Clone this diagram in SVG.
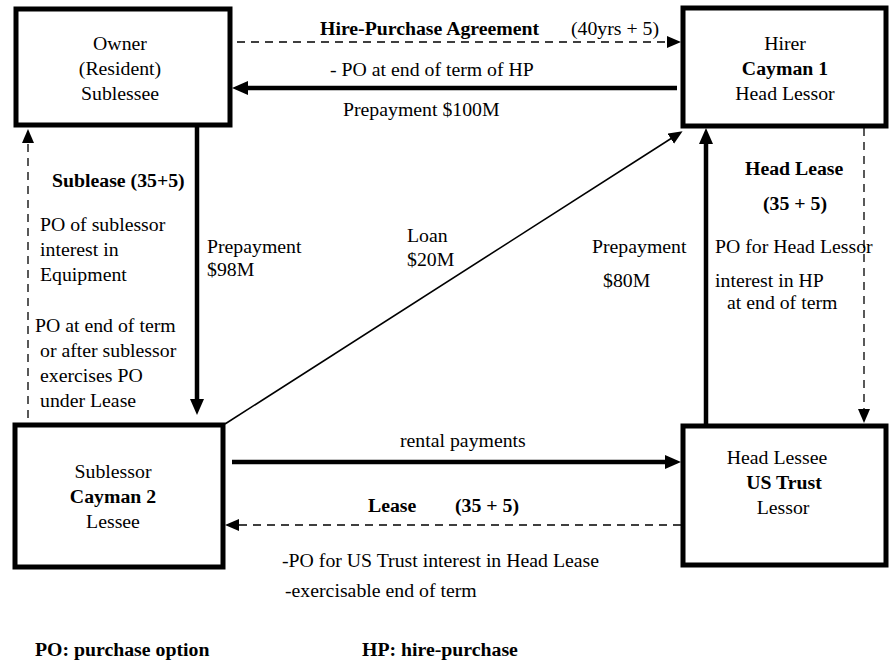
<svg xmlns="http://www.w3.org/2000/svg" width="889" height="662" viewBox="0 0 889 662" font-family="Liberation Serif, Times New Roman, serif">
<style>
text{font-size:19.8px;fill:#000}
.b{font-weight:bold}
.m{text-anchor:middle}
.box{fill:#fff;stroke:#000;stroke-width:5}
.thick{stroke:#000;stroke-width:4.5;fill:none}
.thin{stroke:#000;stroke-width:1.6;fill:none}
.dash{stroke:#000;stroke-width:1.3;fill:none;stroke-dasharray:8 6}
</style>
<defs>
<marker id="ah" markerUnits="userSpaceOnUse" markerWidth="18" markerHeight="16" refX="6" refY="7" orient="auto"><path d="M0,0 L16,7 L0,14 z" fill="#000"/></marker>
<marker id="as" markerUnits="userSpaceOnUse" markerWidth="16" markerHeight="14" refX="5" refY="6" orient="auto"><path d="M0,0 L14,6 L0,12 z" fill="#000"/></marker>
</defs>
<g id="connectors">
<line class="dash" x1="237" y1="42" x2="672" y2="42" marker-end="url(#as)"/>
<line class="thick" x1="677" y1="88" x2="242" y2="88" marker-end="url(#ah)"/>
<line class="thick" x1="197" y1="127" x2="197" y2="405" marker-end="url(#ah)"/>
<line class="dash" x1="28" y1="418" x2="28" y2="138" marker-end="url(#as)"/>
<line class="thin" x1="225" y1="424" x2="675" y2="136" marker-end="url(#as)"/>
<line class="thick" x1="706" y1="424" x2="706" y2="138" marker-end="url(#ah)"/>
<line class="dash" x1="864" y1="128" x2="864" y2="414" marker-end="url(#as)"/>
<line class="thick" x1="232" y1="462" x2="671" y2="462" marker-end="url(#ah)"/>
<line class="dash" x1="681" y1="525" x2="234" y2="525" marker-end="url(#as)"/>
</g>
<g id="owner">
<rect class="box" x="16" y="9" width="214" height="116"/>
<text class="m" x="120" y="50">Owner</text>
<text class="m" x="120" y="75">(Resident)</text>
<text class="m" x="120" y="100">Sublessee</text>
</g>
<g id="hirer">
<rect class="box" x="683" y="8" width="203" height="118"/>
<text class="m" x="785" y="50">Hirer</text>
<text class="m b" x="785" y="75">Cayman 1</text>
<text class="m" x="785" y="100">Head Lessor</text>
</g>
<g id="sublessor">
<rect class="box" x="15" y="425" width="208" height="142"/>
<text class="m" x="113" y="478">Sublessor</text>
<text class="m b" x="113" y="503">Cayman 2</text>
<text class="m" x="113" y="528">Lessee</text>
</g>
<g id="headlessee">
<rect class="box" x="683" y="426" width="203" height="139"/>
<text class="m" x="777" y="464">Head Lessee</text>
<text class="m b" x="784" y="489">US Trust</text>
<text class="m" x="783" y="514">Lessor</text>
</g>
<g id="labels">
<text class="b" x="320" y="35">Hire-Purchase Agreement</text>
<text x="571" y="35">(40yrs + 5)</text>
<text x="330" y="76">- PO at end of term of HP</text>
<text x="343" y="116">Prepayment $100M</text>
<text class="b" x="52" y="187">Sublease (35+5)</text>
<text x="40" y="231">PO of sublessor</text>
<text x="40" y="256">interest in</text>
<text x="40" y="281">Equipment</text>
<text x="35" y="332">PO at end of term</text>
<text x="40" y="357">or after sublessor</text>
<text x="40" y="382">exercises PO</text>
<text x="40" y="407">under Lease</text>
<text x="207" y="253">Prepayment</text>
<text x="207" y="276">$98M</text>
<text x="407" y="242">Loan</text>
<text x="407" y="266">$20M</text>
<text x="592" y="253">Prepayment</text>
<text x="603" y="287">$80M</text>
<text class="b" x="745" y="175">Head Lease</text>
<text class="b" x="763" y="210">(35 + 5)</text>
<text x="715" y="253">PO for Head Lessor</text>
<text x="715" y="287">interest in HP</text>
<text x="727" y="309">at end of term</text>
<text x="400" y="447">rental payments</text>
<text class="b" x="368" y="512">Lease</text>
<text class="b" x="455" y="512">(35 + 5)</text>
<text x="282" y="567">-PO for US Trust interest in Head Lease</text>
<text x="285" y="597">-exercisable end of term</text>
<text class="b" x="35" y="656">PO: purchase option</text>
<text class="b" x="362" y="656">HP: hire-purchase</text>
</g>
</svg>
